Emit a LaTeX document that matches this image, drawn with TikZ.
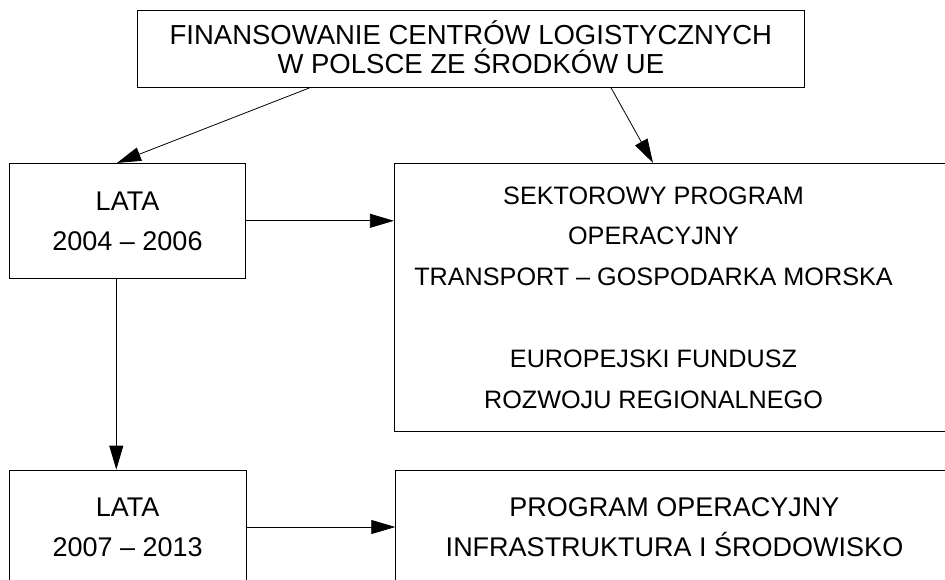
\documentclass[tikz,border=0pt]{standalone}
\usepackage{fontspec}
\setmainfont{Liberation Sans}
\usetikzlibrary{arrows.meta,calc}
\newcommand{\topstrut}{\rule{0pt}{1.016em}}
\newcommand{\botstrut}{\rule[-0.3em]{0pt}{0pt}}
\begin{document}
\begin{tikzpicture}[x=1pt,y=-1pt,
  boxnode/.style={draw=black, line width=0.8pt, rectangle, inner sep=0pt, align=center},
  txtnode/.style={inner sep=0pt, align=center},
  arr/.style={line width=0.8pt, -{Triangle[length=24pt,width=14pt]}},
  bigfont/.style={font=\fontsize{27.5}{29}\selectfont},
  midfont/.style={font=\fontsize{27}{40.6}\selectfont},
  rfont/.style={font=\fontsize{25.2}{40.8}\selectfont}]
\useasboundingbox (0,0) rectangle (945,579);
\clip (0,0) rectangle (945,579);
% boxes
\node[boxnode, bigfont, minimum width=666.3pt, minimum height=76.6pt] (top) at (470.85,49)
  {\topstrut FINANSOWANIE CENTRÓW LOGISTYCZNYCH\\W POLSCE ZE ŚRODKÓW UE\botstrut};
\node[boxnode, midfont, minimum width=236.4pt, minimum height=115pt] (l1) at (127.5,220.8)
  {\topstrut LATA\\2004 – 2006\botstrut};
\node[boxnode, minimum width=565.7pt, minimum height=268.4pt] (r1) at (677.15,297.5) {};
\node[txtnode, rfont] (r1t) at (653.5,297)
  {\topstrut SEKTOROWY PROGRAM\\OPERACYJNY\\TRANSPORT – GOSPODARKA MORSKA\\[40.8pt]EUROPEJSKI FUNDUSZ\\ROZWOJU REGIONALNEGO\botstrut};
\node[boxnode, midfont, minimum width=236.7pt, minimum height=114pt] (l2) at (127.65,527)
  {\topstrut LATA\\2007 – 2013\botstrut};
\node[boxnode, minimum width=564.3pt, minimum height=114pt] (r2) at (677.85,527) {};
\node[txtnode, midfont] (r2t) at (674.5,526.7)
  {\topstrut PROGRAM OPERACYJNY\\INFRASTRUKTURA I ŚRODOWISKO\botstrut};
% connectors
\draw[arr] ([xshift=-160.85pt]top.south) -- ([xshift=-10.5pt]l1.north);
\draw[arr] ([xshift=140.15pt]top.south) -- ([xshift=-24.15pt]r1.north);
\draw[arr] (l1.east) -- (l1.east -| r1.west);
\draw[arr] ([xshift=-11.2pt]l1.south) -- ([xshift=-11.2pt]l1.south |- l2.north);
\draw[arr] (l2.east) -- (l2.east -| r2.west);
\end{tikzpicture}
\end{document}
